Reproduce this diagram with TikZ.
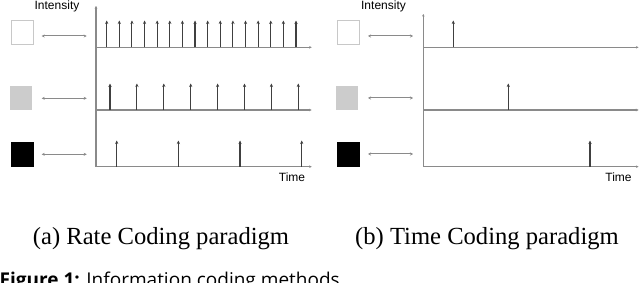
\documentclass[tikz,border=0pt]{standalone}
\usepackage{fontspec}
\usetikzlibrary{arrows.meta}
\newfontfamily\capfont{Liberation Serif}
\newfontfamily\axfont{Liberation Sans}
\newfontfamily\figfont{Open Sans}
\definecolor{axisgray}{HTML}{8A8A8A}
\definecolor{spikegray}{HTML}{404040}
\definecolor{boxgray}{HTML}{CCCCCC}
\definecolor{rimgray}{HTML}{C8C8C8}
\tikzset{
  axisline/.style={draw=axisgray, line width=1.2pt, -{Stealth[length=2.5pt,width=2.5pt]}},
  spike/.style={draw=spikegray, line width=1.1pt, -{Stealth[length=3.5pt,width=3.2pt]}},
  linkline/.style={draw=axisgray, line width=1pt, {Stealth[length=3pt,width=3pt]}-{Stealth[length=3pt,width=3pt]}},
  whitebox/.style={draw=rimgray, line width=0.9pt, fill=white, minimum width=22pt, minimum height=24pt, inner sep=0pt},
  graybox/.style={fill=boxgray, minimum width=22pt, minimum height=24pt, inner sep=0pt},
  blackbox/.style={fill=black, minimum width=22.5pt, minimum height=24.5pt, inner sep=0pt},
  axislabel/.style={font=\axfont\fontsize{12}{14}\selectfont, inner sep=0pt, anchor=base},
  subcap/.style={font=\capfont\fontsize{24.6}{28}\selectfont, inner sep=0pt, anchor=base},
}
\begin{document}
\begin{tikzpicture}[x=1pt,y=-1pt]
\clip (0,0) rectangle (640,283);
\fill[white] (0,0) rectangle (640,283);

% ---------------- left panel: rate coding ----------------
\node[whitebox] (lw) at (22.2,32.5) {};
\node[graybox] (lg) at (21.2,98.3) {};
\node[blackbox] (lb) at (22.3,154.5) {};
\coordinate (lw1) at (41.7,36);  \coordinate (lw2) at (86.7,36);
\coordinate (lg1) at (41.7,98.3); \coordinate (lg2) at (86.7,98.3);
\coordinate (lb1) at (41.7,154.3); \coordinate (lb2) at (86.7,154.3);
\draw[linkline] (lw1) -- (lw2);
\draw[linkline] (lg1) -- (lg2);
\draw[linkline] (lb1) -- (lb2);

\coordinate (lorig) at (96,167);
\coordinate (ltop) at (96,6);
\draw[axisline] (lorig) -- (ltop);
\coordinate (la1s) at (96,47.3);  \coordinate (la1e) at (311.7,47.3);
\coordinate (la2s) at (96,110);   \coordinate (la2e) at (311.7,110);
\coordinate (la3s) at (96,166.7); \coordinate (la3e) at (311.7,166.7);
\draw[axisline] (la1s) -- (la1e);
\draw[axisline] (la2s) -- (la2e);
\draw[axisline] (la3s) -- (la3e);

\foreach \i in {0,...,15}{
  \coordinate (r1b\i) at ({106.7+12.62*\i},47.3);
  \coordinate (r1t\i) at ({106.7+12.62*\i},20.5);
  \draw[spike] (r1b\i) -- (r1t\i);
}
\foreach \i in {0,...,7}{
  \coordinate (r2b\i) at ({110+26.9*\i},110);
  \coordinate (r2t\i) at ({110+26.9*\i},83.5);
  \draw[spike] (r2b\i) -- (r2t\i);
}
\foreach \i in {0,...,3}{
  \coordinate (r3b\i) at ({116.7+61.67*\i},166.7);
  \coordinate (r3t\i) at ({116.7+61.67*\i},140.5);
  \draw[spike] (r3b\i) -- (r3t\i);
}
\node[axislabel] (lint) at (57,10) {Intensity};
\node[axislabel] (ltime) at (292,182) {Time};

% ---------------- right panel: time coding ----------------
\node[whitebox] (rw) at (348.8,32.5) {};
\node[graybox] (rg) at (347,98.3) {};
\node[blackbox] (rb) at (348.7,154.5) {};
\coordinate (rw1) at (368,36);  \coordinate (rw2) at (413,36);
\coordinate (rg1) at (368,98);  \coordinate (rg2) at (413,98);
\coordinate (rb1) at (368,154); \coordinate (rb2) at (413,154);
\draw[linkline] (rw1) -- (rw2);
\draw[linkline] (rg1) -- (rg2);
\draw[linkline] (rb1) -- (rb2);

\coordinate (rorig) at (423.3,167);
\coordinate (rtop) at (423.3,14);
\draw[axisline] (rorig) -- (rtop);
\coordinate (ra1s) at (423.3,47.3);  \coordinate (ra1e) at (638.5,47.3);
\coordinate (ra2s) at (423.3,110);   \coordinate (ra2e) at (638.5,110);
\coordinate (ra3s) at (423.3,166.7); \coordinate (ra3e) at (638.5,166.7);
\draw[axisline] (ra1s) -- (ra1e);
\draw[axisline] (ra2s) -- (ra2e);
\draw[axisline] (ra3s) -- (ra3e);

\coordinate (t1b) at (453.3,47.3);  \coordinate (t1t) at (453.3,20.5);
\coordinate (t2b) at (508.3,110);   \coordinate (t2t) at (508.3,83.5);
\coordinate (t3b) at (590,166.7);   \coordinate (t3t) at (590,140.5);
\draw[spike] (t1b) -- (t1t);
\draw[spike] (t2b) -- (t2t);
\draw[spike] (t3b) -- (t3t);
\node[axislabel] (rint) at (383.5,10) {Intensity};
\node[axislabel] (rtime) at (618.5,182) {Time};

% ---------------- captions ----------------
\node[subcap] (capa) at (161,245) {(a) Rate Coding paradigm};
\node[subcap] (capb) at (487,245) {(b) Time Coding paradigm};
\node[font=\figfont\fontsize{19}{22}\selectfont, inner sep=0pt, anchor=base west] (figcap) at (-0.5,287) {\textbf{Figure 1:} Information coding methods};
\end{tikzpicture}
\end{document}
